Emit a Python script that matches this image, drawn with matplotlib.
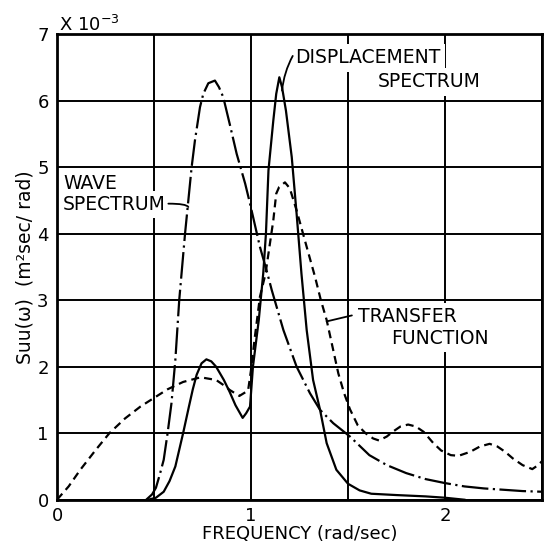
import matplotlib

matplotlib.use("Agg")
import matplotlib.pyplot as plt

# frequency (rad/sec) and Suu values (x 1e-3)
wave_freq = [0.46, 0.49, 0.51, 0.53, 0.55, 0.57, 0.59, 0.61, 0.63, 0.645, 0.66,
             0.677, 0.694, 0.711, 0.737, 0.754, 0.78, 0.814, 0.835, 0.857, 0.89,
             0.926, 0.97, 0.995, 1.046, 1.08, 1.107, 1.167, 1.235, 1.304, 1.356,
             1.424, 1.51, 1.61, 1.7, 1.8, 1.9, 2.0, 2.1, 2.2, 2.3, 2.4, 2.5]
wave_spec = [0.0, 0.08, 0.18, 0.38, 0.6, 1.0, 1.45, 2.1, 3.0, 3.5, 4.0,
             4.5, 5.0, 5.4, 5.9, 6.1, 6.26, 6.3, 6.2, 6.05, 5.65,
             5.2, 4.75, 4.45, 3.8, 3.45, 3.15, 2.55, 2.0, 1.6, 1.35,
             1.15, 0.95, 0.67, 0.52, 0.4, 0.31, 0.25, 0.2, 0.17, 0.15, 0.13, 0.12]

disp_freq = [0.47, 0.51, 0.55, 0.58, 0.61, 0.63, 0.65, 0.68, 0.70, 0.72, 0.745,
             0.77, 0.795, 0.82, 0.86, 0.89, 0.92, 0.957, 0.975, 0.995, 1.01,
             1.04, 1.063, 1.077, 1.09, 1.115, 1.13, 1.146, 1.16, 1.18, 1.21,
             1.235, 1.26, 1.287, 1.32, 1.356, 1.39, 1.44, 1.5, 1.56, 1.62,
             1.75, 1.9, 2.0, 2.1]
disp_spec = [0.0, 0.03, 0.12, 0.28, 0.5, 0.75, 1.0, 1.4, 1.66, 1.88, 2.05,
             2.11, 2.08, 2.0, 1.8, 1.62, 1.42, 1.23, 1.3, 1.4, 2.0,
             2.7, 3.4, 4.0, 4.95, 5.7, 6.1, 6.35, 6.2, 5.85, 5.15,
             4.3, 3.4, 2.55, 1.8, 1.35, 0.85, 0.45, 0.24, 0.14, 0.09,
             0.07, 0.05, 0.03, 0.0]

tf_freq = [0.0, 0.06, 0.12, 0.2, 0.27, 0.35, 0.43, 0.5, 0.57, 0.65, 0.74,
           0.82, 0.87, 0.89, 0.94, 0.985, 1.0, 1.02, 1.046, 1.075, 1.1,
           1.115, 1.13, 1.145, 1.175, 1.2, 1.235, 1.287, 1.33, 1.36, 1.39,
           1.45, 1.48, 1.51, 1.55, 1.59, 1.63, 1.66, 1.70, 1.73, 1.77,
           1.81, 1.85, 1.89, 1.94, 1.98, 2.03, 2.07, 2.13, 2.18, 2.23,
           2.27, 2.31, 2.35, 2.40, 2.45, 2.48, 2.5]
tf_spec = [0.0, 0.2, 0.45, 0.75, 1.0, 1.22, 1.4, 1.53, 1.66, 1.77, 1.84,
           1.8, 1.7, 1.65, 1.56, 1.64, 1.95, 2.45, 3.05, 3.4, 3.9,
           4.2, 4.6, 4.7, 4.77, 4.68, 4.35, 3.8, 3.35, 3.0, 2.7,
           1.9, 1.6, 1.36, 1.12, 1.0, 0.92, 0.89, 0.95, 1.02, 1.1,
           1.13, 1.1, 1.02, 0.85, 0.74, 0.67, 0.66, 0.72, 0.8, 0.84,
           0.8, 0.72, 0.62, 0.52, 0.46, 0.52, 0.58]

x_ticks = [0, 0.5, 1, 1.5, 2, 2.5]
x_tick_labels = ["0", "", "1", "", "2", ""]
y_ticks = [0, 1, 2, 3, 4, 5, 6, 7]

plt.rcParams["font.family"] = ["DejaVu Sans"]
FS = 13.5
TICK_FS = 13

fig = plt.figure(figsize=(5.45, 5.43), dpi=100)
ax = fig.add_axes([0.1046, 0.0797, 0.8899, 0.8577])

ax.plot(wave_freq, wave_spec, color="black", lw=1.6, dashes=(12, 2, 1, 2))
ax.plot(disp_freq, disp_spec, color="black", lw=1.6)
ax.plot(tf_freq, tf_spec, color="black", lw=1.6, dashes=(3.6, 2.3))

ax.set_xlim(0, 2.5)
ax.set_ylim(0, 7)
ax.set_xticks(x_ticks)
ax.set_xticklabels(x_tick_labels, fontsize=TICK_FS)
ax.set_yticks(y_ticks)
ax.set_yticklabels([str(v) for v in y_ticks], fontsize=TICK_FS)
ax.tick_params(length=0)
ax.tick_params(axis="x", pad=5)
ax.tick_params(axis="y", pad=6)
ax.grid(True, color="black", lw=1.4)
ax.set_axisbelow(True)
for sp in ax.spines.values():
    sp.set_linewidth(2)

ax.set_xlabel("FREQUENCY (rad/sec)", fontsize=13, labelpad=0)
ax.set_ylabel("Suu(ω)  (m²sec/ rad)", fontsize=FS, labelpad=2)
fig.text(0.108, 0.942, "X 10$^{-3}$", fontsize=TICK_FS, ha="left", va="baseline")

box = dict(facecolor="white", edgecolor="none", pad=3)
txt = dict(fontsize=FS, ha="left", va="baseline", bbox=box, zorder=3)
ax.text(0.031, 4.665, "WAVE", **txt)
ax.text(0.031, 4.35, "SPECTRUM", **txt)
ax.text(1.227, 6.557, "DISPLACEMENT", **txt)
ax.text(1.655, 6.197, "SPECTRUM", **txt)
ax.text(1.552, 2.668, "TRANSFER", **txt)
ax.text(1.722, 2.337, "FUNCTION", **txt)

lead = dict(arrowstyle="-", lw=1.3, color="black", shrinkA=0, shrinkB=0)
ax.annotate("", xy=(0.677, 4.40), xytext=(0.574, 4.45),
            arrowprops=dict(lead, connectionstyle="angle3,angleA=0,angleB=-60"), zorder=4)
ax.annotate("", xy=(1.16, 6.15), xytext=(1.215, 6.67),
            arrowprops=dict(lead, connectionstyle="arc3,rad=0.1"), zorder=4)
ax.annotate("", xy=(1.39, 2.68), xytext=(1.52, 2.77),
            arrowprops=lead, zorder=4)

fig.savefig("out.png", dpi=100)
